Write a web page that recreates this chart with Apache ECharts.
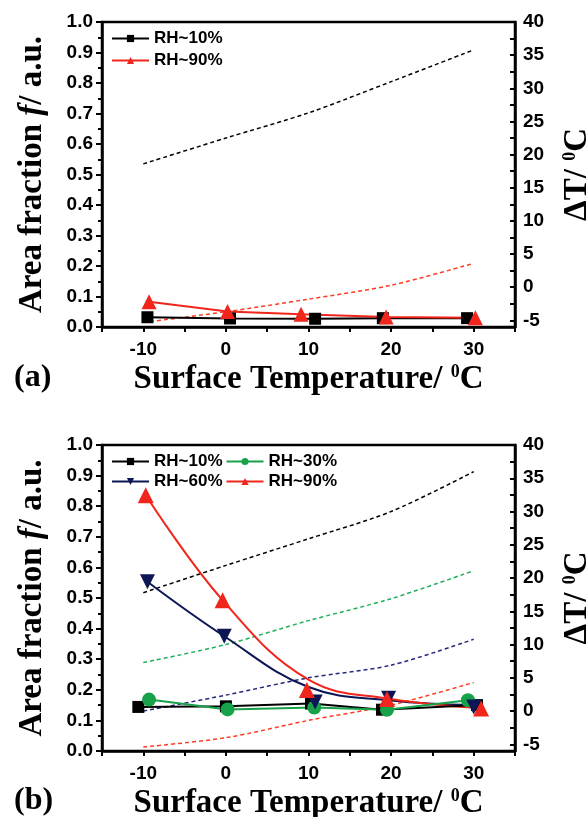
<!doctype html>
<html lang="en">
<head>
<meta charset="UTF-8">
<title>Area fraction vs surface temperature</title>
<script src="https://cdn.jsdelivr.net/npm/echarts@6/dist/echarts.min.js"></script>
<style>
  html, body { margin: 0; padding: 0; background: #fff; }
  #main { width: 588px; height: 817px; }
</style>
</head>
<body>
<div id="main"></div>
<script>
// ---- panel (a) ----
var tempA10 = [-9.5, 0.5, 10.8, 19.0, 29.2];
var fracA10 = [0.032, 0.028, 0.027, 0.029, 0.029];
var tempA90 = [-9.3, 0.2, 9.1, 19.4, 30.2];
var fracA90 = [0.083, 0.051, 0.042, 0.033, 0.030];
var tempDT = [-10, 0, 10, 20, 30];
var dtA10 = [18.6, 22.5, 26.3, 31.0, 35.8];
var dtA90 = [-5.3, -3.7, -1.8, 0.3, 3.6];

// ---- panel (b) ----
var tempB10 = [-10.6, 0, 10.3, 18.9, 30.4];
var fracB10 = [0.144, 0.146, 0.155, 0.135, 0.150];
var tempB30 = [-9.3, 0.2, 10.7, 19.5, 29.3];
var fracB30 = [0.168, 0.136, 0.142, 0.135, 0.166];
var tempB60 = [-9.5, -0.2, 10.8, 19.7, 30.0];
var fracB60 = [0.553, 0.375, 0.160, 0.172, 0.144];
var tempB90 = [-9.7, -0.4, 9.8, 19.5, 30.9];
var fracB90 = [0.836, 0.493, 0.199, 0.170, 0.139];
// fitted curves through the 60% / 90% points
var fitTemp60 = [-9.5, -0.2, 10, 20, 30];
var fit60 = [0.553, 0.375, 0.209, 0.165, 0.150];
var fitTemp90 = [-9.7, -0.4, 10, 20, 30.9];
var fit90 = [0.836, 0.493, 0.233, 0.170, 0.140];
var dtB10 = [17.8, 21.9, 25.9, 30.0, 36.0];
var dtB30 = [7.3, 10.0, 13.6, 16.9, 21.1];
var dtB60 = [0.0, 2.4, 5.0, 6.9, 10.8];
var dtB90 = [-5.4, -4.0, -1.4, 0.9, 4.3];

var dtLabels = [-5, 0, 5, 10, 15, 20, 25, 30, 35, 40];
var dtTicks = [-5, -2.5, 0, 2.5, 5, 7.5, 10, 12.5, 15, 17.5, 20, 22.5, 25, 27.5, 30, 32.5, 35, 37.5, 40];

var BLACK = '#000', RED = '#f0261c', NAVY = '#0c1654', GREEN = '#17a24a';
var NAVY_D = '#25267e', GREEN_D = '#1fae5a', RED_D = '#ff3b22';

function pts(xs, ys) { return xs.map(function (x, i) { return [x, ys[i]]; }); }

var tickFont = { fontFamily: 'Liberation Sans', fontWeight: 'bold', fontSize: 19, color: '#000' };
var titleFont = {
  fontFamily: 'Liberation Serif', fontWeight: 'bold', fontSize: 33, color: '#000',
  rich: {
    sup: { fontFamily: 'Liberation Serif', fontWeight: 'bold', fontSize: 18, verticalAlign: 'top', lineHeight: 18, color: '#000' },
    i: { fontFamily: 'Liberation Serif', fontWeight: 'bold', fontStyle: 'italic', fontSize: 33, color: '#000' }
  }
};
var axisLine = { show: true, onZero: false, lineStyle: { color: '#000', width: 2.5 } };

function xAxisFor(g) {
  return {
    type: 'value', gridIndex: g, min: -15, max: 35, interval: 5,
    axisLine: axisLine,
    axisTick: { show: true, length: 5, lineStyle: { width: 2, color: '#000' } },
    axisLabel: Object.assign({ margin: 13, formatter: function (v) { return v % 10 === 0 ? v : ''; } }, tickFont),
    splitLine: { show: false },
    name: 'Surface Temperature/ {sup|0}C', nameLocation: 'middle', nameGap: 36,
    nameTextStyle: titleFont
  };
}
function fracAxis(g) {
  return {
    type: 'value', gridIndex: g, position: 'left', min: 0, max: 1, interval: 0.1,
    axisLine: axisLine,
    axisTick: { show: true, length: 6, lineStyle: { width: 2, color: '#000' } },
    minorTick: { show: true, splitNumber: 2, length: 4, lineStyle: { width: 2, color: '#000' } },
    axisLabel: Object.assign({ margin: 9, formatter: function (v) { return v.toFixed(1); } }, tickFont),
    splitLine: { show: false },
    name: 'Area fraction {i|f}/ a.u.', nameLocation: 'middle', nameGap: 53,
    nameTextStyle: titleFont
  };
}
function dtAxis(g) {
  return {
    type: 'value', gridIndex: g, position: 'right', min: -6, max: 40,
    axisLine: axisLine,
    axisTick: { show: true, inside: true, length: 5, customValues: dtTicks, lineStyle: { width: 2, color: '#000' } },
    axisLabel: Object.assign({ margin: 8, customValues: dtLabels }, tickFont),
    splitLine: { show: false },
    name: '\u0394T/ {sup|0}C', nameLocation: 'middle', nameGap: 46,
    nameTextStyle: titleFont
  };
}

function marked(name, xi, yi, data, color, symbol, size, rotate) {
  return {
    name: name, type: 'line', xAxisIndex: xi, yAxisIndex: yi, data: data,
    symbol: symbol, symbolSize: size, symbolRotate: rotate || 0, z: 5,
    lineStyle: { color: color, width: 2 }, itemStyle: { color: color }
  };
}
function dashed(xi, yi, data, color) {
  return {
    type: 'line', xAxisIndex: xi, yAxisIndex: yi, data: data, symbol: 'none',
    smooth: 0.3, z: 2, silent: true,
    lineStyle: { color: color, width: 1.5, type: [4, 3] }
  };
}
function curve(name, data, color, symbol, rotate) {
  return {
    name: name, type: 'line', xAxisIndex: 1, yAxisIndex: 2, data: data,
    symbol: symbol, symbolRotate: rotate || 0, showSymbol: false, smooth: 0.4, z: 3,
    lineStyle: { color: color, width: 2 }, itemStyle: { color: color }
  };
}
function scatterPts(xi, yi, data, color, symbol, size, rotate) {
  return {
    type: 'scatter', xAxisIndex: xi, yAxisIndex: yi, data: data,
    symbol: symbol, symbolSize: size, symbolRotate: rotate || 0, z: 6,
    itemStyle: { color: color, opacity: 1 }
  };
}

var legendText = { fontFamily: 'Liberation Sans', fontWeight: 'bold', fontSize: 17, color: '#000' };

var myChart = echarts.init(document.getElementById('main'));
var option = {
  animation: false,
  backgroundColor: '#fff',
  grid: [
    { left: 102, right: 73, top: 22, height: 305, containLabel: false, outerBoundsMode: 'none', show: true, borderColor: '#000', borderWidth: 2.5 },
    { left: 102, right: 73, top: 445, height: 306, containLabel: false, outerBoundsMode: 'none', show: true, borderColor: '#000', borderWidth: 2.5 }
  ],
  xAxis: [xAxisFor(0), xAxisFor(1)],
  yAxis: [fracAxis(0), dtAxis(0), fracAxis(1), dtAxis(1)],
  legend: [
    {
      data: ['RH~10%', 'RH~90%'], orient: 'vertical', left: 106, top: 25,
      itemWidth: 37, itemHeight: 9, itemGap: 5, textStyle: legendText, selectedMode: false
    },
    {
      data: ['RH~10%', 'RH~30%', 'RH~60%', 'RH~90%'], orient: 'horizontal', left: 106, top: 448, width: 232,
      itemWidth: 37, itemHeight: 9, itemGap: 3, textStyle: legendText, selectedMode: false
    }
  ],
  graphic: [
    { type: 'text', left: 14, top: 362, style: { text: '(a)', font: 'bold 32px "Liberation Serif"', fill: '#000' } },
    { type: 'text', left: 14, top: 785, style: { text: '(b)', font: 'bold 32px "Liberation Serif"', fill: '#000' } }
  ],
  series: [
    dashed(0, 1, pts(tempDT, dtA10), BLACK),
    dashed(0, 1, pts(tempDT, dtA90), RED_D),
    marked('RH~10%', 0, 0, pts(tempA10, fracA10), BLACK, 'rect', 12),
    marked('RH~90%', 0, 0, pts(tempA90, fracA90), RED, 'triangle', 15),

    dashed(1, 3, pts(tempDT, dtB10), BLACK),
    dashed(1, 3, pts(tempDT, dtB30), GREEN_D),
    dashed(1, 3, pts(tempDT, dtB60), NAVY_D),
    dashed(1, 3, pts(tempDT, dtB90), RED_D),
    curve('RH~60%', pts(fitTemp60, fit60), NAVY, 'triangle', 180),
    curve('RH~90% fit', pts(fitTemp90, fit90), RED, 'triangle'),
    marked('RH~10%', 1, 2, pts(tempB10, fracB10), BLACK, 'rect', 12),
    marked('RH~30%', 1, 2, pts(tempB30, fracB30), GREEN, 'circle', 14),
    scatterPts(1, 2, pts(tempB60, fracB60), NAVY, 'triangle', 15, 180),
    scatterPts(1, 2, pts(tempB90, fracB90), RED, 'triangle', 16)
  ]
};
myChart.setOption(option);
</script>
</body>
</html>
